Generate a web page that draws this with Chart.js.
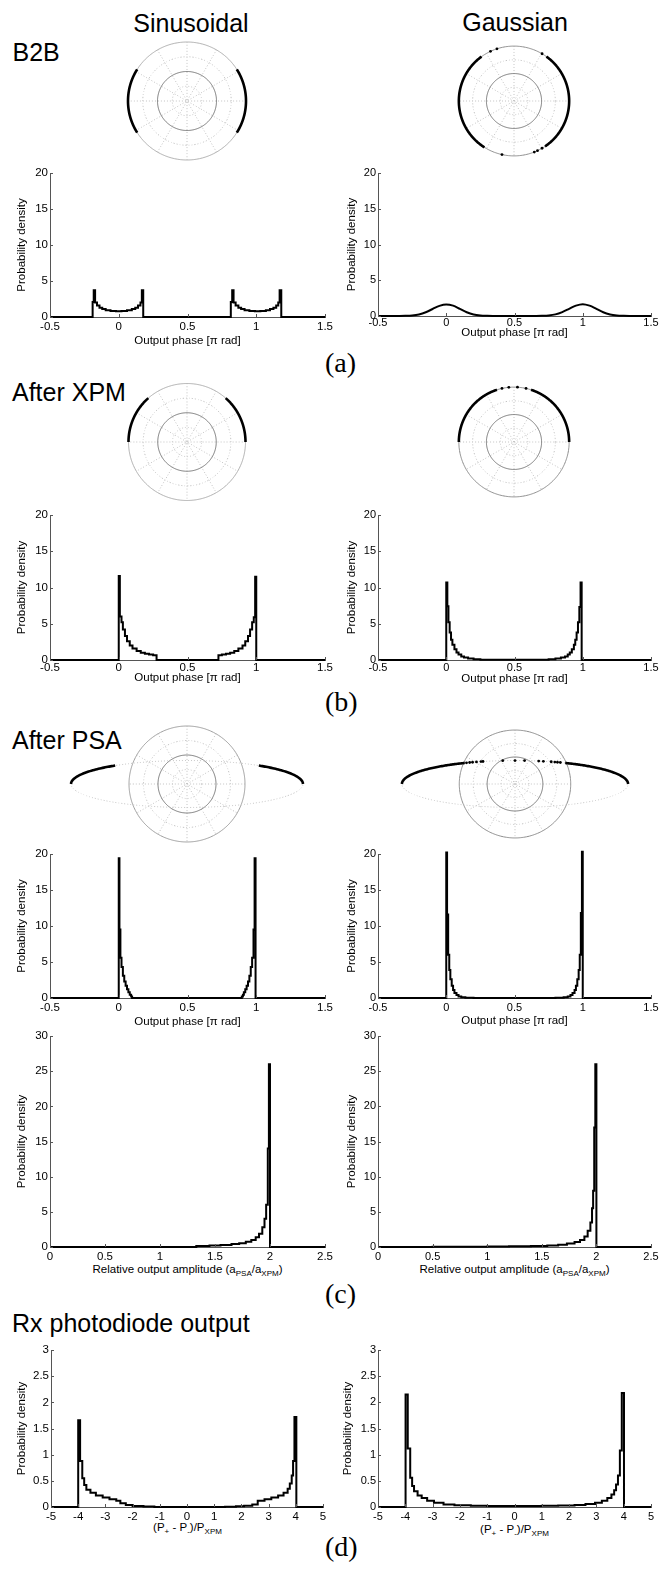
<!DOCTYPE html>
<html><head><meta charset="utf-8">
<script src="https://cdn.jsdelivr.net/npm/chart.js@4.4.1/dist/chart.umd.min.js"></script>
<style>
body{margin:0;background:#fff;}
#page{position:relative;width:670px;height:1571px;overflow:hidden;background:#fff;font-family:"Liberation Sans",Arial,sans-serif;color:#000;}
canvas{position:absolute;}
.t{position:absolute;white-space:nowrap;line-height:1;}
.hd{font-size:25px;}
.c{transform:translateX(-50%);}
.lb{font-family:"Liberation Serif","Times New Roman",serif;font-size:28px;}
.xt{font-size:11.5px;transform:translateX(-50%);}
.xt sub{font-size:8px;vertical-align:-3px;line-height:0;}
</style></head><body>
<div id="page">
<div class="t hd c" style="left:191px;top:10.5px">Sinusoidal</div>
<div class="t hd c" style="left:515px;top:10px">Gaussian</div>
<div class="t hd" style="left:12.5px;top:40px">B2B</div>
<div class="t hd" style="left:12px;top:380px">After XPM</div>
<div class="t hd" style="left:12px;top:728px">After PSA</div>
<div class="t hd" style="left:12px;top:1310.5px">Rx photodiode output</div>
<div class="t lb" style="left:325px;top:348.5px">(a)</div>
<div class="t lb" style="left:325px;top:688px">(b)</div>
<div class="t lb" style="left:325px;top:1279.5px">(c)</div>
<div class="t lb" style="left:325px;top:1533px">(d)</div>
<div class="t xt" style="left:187.5px;top:1264px">Relative output amplitude (a<sub>PSA</sub>/a<sub>XPM</sub>)</div>
<div class="t xt" style="left:514.5px;top:1264px">Relative output amplitude (a<sub>PSA</sub>/a<sub>XPM</sub>)</div>
<div class="t xt" style="left:187.5px;top:1522px">(P<sub>+</sub> - P<sub>-</sub>)/P<sub>XPM</sub></div>
<div class="t xt" style="left:514.5px;top:1524px">(P<sub>+</sub> - P<sub>-</sub>)/P<sub>XPM</sub></div>
</div>
<script>
// ---------- tick labels ----------
const phaseTicks = [-0.5, 0, 0.5, 1, 1.5];
const ampTicks = [0, 0.5, 1, 1.5, 2, 2.5];
const rxTicks = [-5, -4, -3, -2, -1, 0, 1, 2, 3, 4, 5];
const densTicks20 = [0, 5, 10, 15, 20];
const densTicks30 = [0, 5, 10, 15, 20, 25, 30];
const densTicks3 = [0, 0.5, 1, 1.5, 2, 2.5, 3];

// ---------- histograms: bin left edges + probability density ----------
// (a) B2B, sinusoidal
const sinB2BEdge = [-0.5,-0.19,-0.182,-0.172,-0.158,-0.14,-0.12,-0.095,-0.06,-0.02,0.02,0.06,0.095,0.12,0.14,0.158,0.168,0.178,
  0.815,0.825,0.835,0.85,0.87,0.89,0.915,0.95,0.99,1.03,1.07,1.1,1.125,1.145,1.16,1.17,1.182,1.5];
const sinB2BDens = [0,2.1,3.7,2.0,1.6,1.3,1.1,0.95,0.85,0.8,0.85,0.95,1.1,1.3,1.6,2.0,3.7,0,
  2.1,3.7,2.0,1.6,1.3,1.1,0.95,0.85,0.8,0.85,0.95,1.1,1.3,1.6,2.0,3.7,0,0];
// (a) B2B, Gaussian
const gauB2BX = [-0.5,-0.4,-0.35,-0.3,-0.25,-0.2,-0.15,-0.1,-0.05,0,0.05,0.1,0.15,0.2,0.25,0.3,0.35,0.4,0.5,0.6,0.65,0.7,0.75,0.8,0.85,0.9,0.95,1.0,1.05,1.1,1.15,1.2,1.25,1.3,1.35,1.4,1.5];
const gauB2BDens = [0,0,0.01,0.03,0.08,0.22,0.52,0.98,1.42,1.62,1.45,1.0,0.53,0.22,0.08,0.03,0.01,0,0,0,0.01,0.03,0.08,0.23,0.55,1.0,1.45,1.66,1.45,1.0,0.52,0.22,0.08,0.03,0.01,0,0];
// (b) After XPM, sinusoidal
const sinXPMEdge = [-0.5,0,0.008,0.02,0.03,0.045,0.06,0.08,0.1,0.13,0.16,0.19,0.22,0.25,0.275,0.725,0.75,0.78,0.81,0.84,0.87,0.9,0.92,0.94,0.955,0.97,0.982,0.992,1.0,1.5];
const sinXPMDens = [0,11.6,6.0,5.2,4.2,3.3,2.6,2.0,1.6,1.25,1.0,0.85,0.75,0.65,0,0.65,0.75,0.85,1.0,1.25,1.6,2.0,2.6,3.3,4.2,5.2,5.9,11.5,0,0];
// (b) After XPM, Gaussian
const gauXPMEdge = [-0.5,0,0.008,0.016,0.025,0.035,0.045,0.06,0.075,0.09,0.11,0.13,0.16,0.2,0.25,0.3,0.7,0.75,0.8,0.84,0.87,0.89,0.905,0.92,0.935,0.945,0.955,0.965,0.975,0.984,0.992,1.0,1.5];
const gauXPMDens = [0,10.7,7.4,5.2,3.8,2.8,2.1,1.5,1.05,0.75,0.5,0.33,0.2,0.1,0.05,0.03,0.05,0.1,0.2,0.33,0.5,0.75,1.05,1.5,2.1,2.8,3.8,5.2,7.3,10.7,0,0,0];
// (c) After PSA phase, sinusoidal
const sinPSAEdge = [-0.5,0,0.005,0.012,0.02,0.03,0.04,0.05,0.06,0.07,0.08,0.09,0.097,0.105,0.895,0.903,0.91,0.92,0.93,0.94,0.95,0.96,0.97,0.98,0.988,0.995,1.0,1.5];
const sinPSADens = [0,19.4,9.5,5.6,4.3,3.1,2.3,1.7,1.2,0.8,0.45,0.2,0,0,0.2,0.45,0.8,1.2,1.7,2.3,3.1,4.3,5.6,9.5,19.4,0,0,0];
// (c) After PSA phase, Gaussian
const gauPSAEdge = [-0.5,0,0.006,0.014,0.022,0.03,0.04,0.05,0.06,0.075,0.09,0.11,0.14,0.2,0.8,0.86,0.89,0.91,0.925,0.94,0.95,0.96,0.97,0.978,0.986,0.994,1.0,1.5];
const gauPSADens = [0,20.2,11.6,6.0,3.9,2.6,1.7,1.1,0.7,0.4,0.22,0.1,0.04,0.01,0.04,0.1,0.22,0.4,0.7,1.1,1.7,2.6,3.9,6.0,11.8,20.3,0,0];
// (c) Relative output amplitude, sinusoidal
const sinAmpEdge = [0,1.33,1.45,1.55,1.65,1.72,1.78,1.83,1.87,1.9,1.93,1.95,1.965,1.98,1.99,2.0,2.5];
const sinAmpDens = [0,0.15,0.22,0.3,0.42,0.55,0.75,1.0,1.4,1.9,2.8,4.0,6.0,14.0,26.0,0,0];
// (c) Relative output amplitude, Gaussian
const gauAmpEdge = [0,0.5,0.8,1.0,1.2,1.4,1.55,1.65,1.73,1.8,1.85,1.89,1.92,1.945,1.96,1.97,1.98,1.99,2.0,2.5];
const gauAmpDens = [0,0.03,0.05,0.07,0.1,0.15,0.22,0.32,0.48,0.7,1.0,1.5,2.3,3.5,5.5,8.0,17.0,26.0,0,0];
// (d) Rx photodiode output, sinusoidal
const sinRxEdge = [-5,-4.0,-3.93,-3.85,-3.78,-3.7,-3.55,-3.35,-3.1,-2.85,-2.6,-2.45,-2.25,-2.0,-1.6,-1.2,1.4,1.8,2.1,2.4,2.6,2.85,3.1,3.35,3.55,3.7,3.78,3.85,3.9,3.95,4.02,5];
const sinRxDens = [0,1.66,0.88,0.55,0.42,0.33,0.27,0.22,0.18,0.15,0.12,0.07,0.04,0.02,0.008,0,0.005,0.015,0.025,0.05,0.12,0.15,0.18,0.22,0.27,0.35,0.45,0.6,0.88,1.72,0,0];
// (d) Rx photodiode output, Gaussian
const gauRxEdge = [-5,-3.99,-3.91,-3.82,-3.75,-3.68,-3.55,-3.4,-3.2,-2.95,-2.6,-2.2,-1.6,-1.0,1.0,1.6,2.2,2.6,2.95,3.2,3.4,3.55,3.65,3.72,3.79,3.86,3.93,4.01,5];
const gauRxDens = [0,2.15,1.12,0.56,0.4,0.3,0.22,0.17,0.12,0.08,0.05,0.035,0.025,0.02,0.025,0.03,0.04,0.055,0.08,0.12,0.17,0.24,0.32,0.43,0.6,1.08,2.18,0,0];

// ---------- constellation (polar) data: phase ranges / points in units of π ----------
const sinB2BArcs = [[-0.18,0.18],[0.82,1.18]];
const gauB2BArcs = [[-0.31,0.30],[0.70,1.32]];
const gauB2BDots = [0.33,0.60,0.64,1.43,1.62,1.64,1.67];
const sinXPMArcs = [[0,0.27],[0.73,1]];
const gauXPMArcs = [[0,0.40],[0.60,1]];
const gauXPMDots = [0.43,0.48,0.53,0.57];
const sinPSAArcs = [[0,0.08],[0.92,1]];
const gauPSAArcs = [[0,0.13],[0.87,1]];
const gauPSADots = [0.145,0.155,0.165,0.18,0.22,0.25,0.38,0.5,0.65,0.8,0.81,0.83,0.845,0.855,0.865];

// ---------- drawing ----------
Chart.defaults.font.family = '"Liberation Sans", Arial, sans-serif';
const page = document.getElementById('page');
const AX = '#555';
const pts = (xs, ys) => xs.map((x, i) => ({x, y: ys[i]}));

const inTicks = {
  id: 'inTicks',
  afterDraw(chart) {
    const ctx = chart.ctx, {left, bottom} = chart.chartArea;
    const xs = chart.scales.x, ys = chart.scales.y;
    ctx.save(); ctx.strokeStyle = AX; ctx.lineWidth = 1;
    xs.ticks.forEach(t => { const p = Math.round(xs.getPixelForValue(t.value)) + 0.5;
      ctx.beginPath(); ctx.moveTo(p, bottom); ctx.lineTo(p, bottom - 3); ctx.stroke(); });
    ys.ticks.forEach(t => { const p = Math.round(ys.getPixelForValue(t.value)) + 0.5;
      ctx.beginPath(); ctx.moveTo(left, p); ctx.lineTo(left + 3, p); ctx.stroke(); });
    ctx.restore();
  }
};

function hist(o) {
  const YW = 45, PT = 10, PR = 18, XH = 36;
  const c = document.createElement('canvas');
  c.width = (o.r - o.l) + YW + PR; c.height = (o.b - o.t) + PT + XH;
  c.style.left = (o.l - YW) + 'px'; c.style.top = (o.t - PT) + 'px';
  page.appendChild(c);
  const fs = o.fs || 11;
  new Chart(c, {
    type: 'line',
    data: {datasets: [{data: o.data, stepped: o.smooth ? false : 'before', cubicInterpolationMode: o.smooth ? 'monotone' : 'default',
      borderColor: '#000', borderWidth: 2, pointRadius: 0, fill: false, clip: 4}]},
    options: {
      responsive: false, animation: false, events: [],
      layout: {padding: {left: 0, right: PR, top: PT, bottom: 0}},
      plugins: {legend: {display: false}, tooltip: {enabled: false}},
      scales: {
        x: {type: 'linear', min: o.xT[0], max: o.xT[o.xT.length - 1],
          afterBuildTicks: s => { s.ticks = o.xT.map(v => ({value: v})); },
          afterFit: s => { s.height = XH; },
          grid: {display: false, drawTicks: false}, border: {display: true, color: AX, width: 1},
          ticks: {font: {size: fs}, color: '#000', padding: Math.max(0, o.xl - fs * 0.6), maxRotation: 0, autoSkip: false, callback: v => String(v)},
          title: {display: !!o.xTitle, text: o.xTitle || '', color: '#000', font: {size: 11.5},
            padding: {top: 0, bottom: Math.max(0, XH - 6.9 - (o.xto || 20))}}},
        y: {type: 'linear', min: o.yT[0], max: o.yT[o.yT.length - 1],
          afterBuildTicks: s => { s.ticks = o.yT.map(v => ({value: v})); },
          afterFit: s => { s.width = YW; },
          grid: {display: false, drawTicks: false}, border: {display: true, color: AX, width: 1},
          ticks: {font: {size: fs}, color: '#000', padding: 2, autoSkip: false, callback: v => String(v)},
          title: {display: true, text: 'Probability density', color: '#000', font: {size: 11.5},
            padding: {top: YW - (o.yto || 27) - 6.9, bottom: 0}}}
      }
    },
    plugins: [inTicks]
  });
}

const deg = Math.PI / 180;
function ringPts(rx, ry) { const p = []; for (let a = 0; a <= 360; a += 3) p.push({x: rx * Math.cos(a * deg), y: ry * Math.sin(a * deg)}); return p; }
function ellR(ph, ea, eb) { return ea ? ea * eb / Math.sqrt((eb * Math.cos(ph)) ** 2 + (ea * Math.sin(ph)) ** 2) : 1; }
function onCurve(phPi, ea, eb) { const ph = phPi * Math.PI, r = ellR(ph, ea, eb); return {x: r * Math.cos(ph), y: r * Math.sin(ph)}; }
function arcPts(a0, a1, ea, eb) { const p = [], n = Math.max(2, Math.ceil((a1 - a0) / 0.004)); for (let i = 0; i <= n; i++) p.push(onCurve(a0 + (a1 - a0) * i / n, ea, eb)); return p; }

function polar(o) {
  const c = document.createElement('canvas');
  c.width = o.W; c.height = o.H;
  c.style.left = (o.cx - o.W / 2) + 'px'; c.style.top = (o.cy - o.H / 2) + 'px';
  page.appendChild(c);
  const line = (data, color, w, dash) => ({data, showLine: true, borderColor: color, borderWidth: w, borderDash: dash || [],
    tension: 0.01, borderJoinStyle: 'round', pointRadius: 0, fill: false});
  const ds = [];
  o.arcs.forEach(([a0, a1]) => ds.push(line(arcPts(a0, a1, o.ea, o.eb), '#000', 2.6)));
  if (o.dots) ds.push({data: o.dots.map(p => onCurve(p, o.ea, o.eb)), showLine: false, pointRadius: 1.4, pointBackgroundColor: '#000', pointBorderWidth: 0});
  if (o.ea) ds.push(line(ringPts(o.ea, o.eb), '#c8c8c8', 1, [1, 2]));
  ds.push(line(ringPts(1, 1), o.outer, 1));
  ds.push(line(ringPts(0.5, 0.5), '#777', 1));
  [0.25, 0.75].forEach(r => ds.push(line(ringPts(r, r), '#c4c4c4', 1, [1, 2])));
  for (let k = 0; k < 6; k++) { const a = k * 30 * deg;
    ds.push(line([{x: Math.cos(a), y: Math.sin(a)}, {x: -Math.cos(a), y: -Math.sin(a)}], '#c4c4c4', 1, [1, 2])); }
  new Chart(c, {type: 'scatter', data: {datasets: ds},
    options: {responsive: false, animation: false, events: [], layout: {padding: 0},
      plugins: {legend: {display: false}, tooltip: {enabled: false}},
      scales: {x: {display: false, min: -o.W / 2 / o.R, max: o.W / 2 / o.R},
               y: {display: false, min: -o.H / 2 / o.R, max: o.H / 2 / o.R}}}});
}

// constellations
polar({cx: 187, cy: 101, R: 59, W: 140, H: 130, arcs: sinB2BArcs, outer: '#aaa'});
polar({cx: 514, cy: 101, R: 58.5, W: 140, H: 130, arcs: gauB2BArcs, dots: gauB2BDots, outer: '#888'});
polar({cx: 187, cy: 442, R: 58.5, W: 140, H: 130, arcs: sinXPMArcs, outer: '#aaa'});
polar({cx: 514, cy: 442, R: 58.5, W: 140, H: 130, arcs: gauXPMArcs, dots: gauXPMDots, outer: '#888'});
polar({cx: 187, cy: 784, R: 58, W: 260, H: 130, arcs: sinPSAArcs, ea: 2.0, eb: 0.405, outer: '#999'});
polar({cx: 515, cy: 783.5, R: 57.5, W: 260, H: 130, arcs: gauPSAArcs, dots: gauPSADots, ea: 2.03, eb: 0.435, outer: '#888'});

// histograms
const PH = 'Output phase [\u03c0 rad]';
hist({l: 50, r: 325, t: 173, b: 317, xT: phaseTicks, yT: densTicks20, data: pts(sinB2BEdge, sinB2BDens), xTitle: PH, xl: 10, xto: 23.5, yto: 28, fs: 11.5});
hist({l: 378, r: 651, t: 173, b: 316, xT: phaseTicks, yT: densTicks20, data: pts(gauB2BX, gauB2BDens), smooth: true, xTitle: PH, xl: 7, xto: 17, yto: 26});
hist({l: 50, r: 325, t: 515, b: 660, xT: phaseTicks, yT: densTicks20, data: pts(sinXPMEdge, sinXPMDens), xTitle: PH, xl: 8, xto: 18, yto: 28, fs: 11.5});
hist({l: 378, r: 651, t: 515, b: 660, xT: phaseTicks, yT: densTicks20, data: pts(gauXPMEdge, gauXPMDens), xTitle: PH, xl: 8, xto: 19, yto: 26});
hist({l: 50, r: 325, t: 854, b: 998, xT: phaseTicks, yT: densTicks20, data: pts(sinPSAEdge, sinPSADens), xTitle: PH, xl: 10, xto: 23.5, yto: 28, fs: 11.5});
hist({l: 378, r: 651, t: 854, b: 998, xT: phaseTicks, yT: densTicks20, data: pts(gauPSAEdge, gauPSADens), xTitle: PH, xl: 10, xto: 23, yto: 26});
hist({l: 50, r: 325, t: 1036, b: 1247, xT: ampTicks, yT: densTicks30, data: pts(sinAmpEdge, sinAmpDens), xl: 10, yto: 28, fs: 11.5});
hist({l: 378, r: 651, t: 1036, b: 1247, xT: ampTicks, yT: densTicks30, data: pts(gauAmpEdge, gauAmpDens), xl: 10, yto: 26});
hist({l: 51, r: 323, t: 1350, b: 1507, xT: rxTicks, yT: densTicks3, data: pts(sinRxEdge, sinRxDens), xl: 10, yto: 29, fs: 11.5});
hist({l: 378, r: 651, t: 1350, b: 1507, xT: rxTicks, yT: densTicks3, data: pts(gauRxEdge, gauRxDens), xl: 10, yto: 30});
</script>
</body></html>
